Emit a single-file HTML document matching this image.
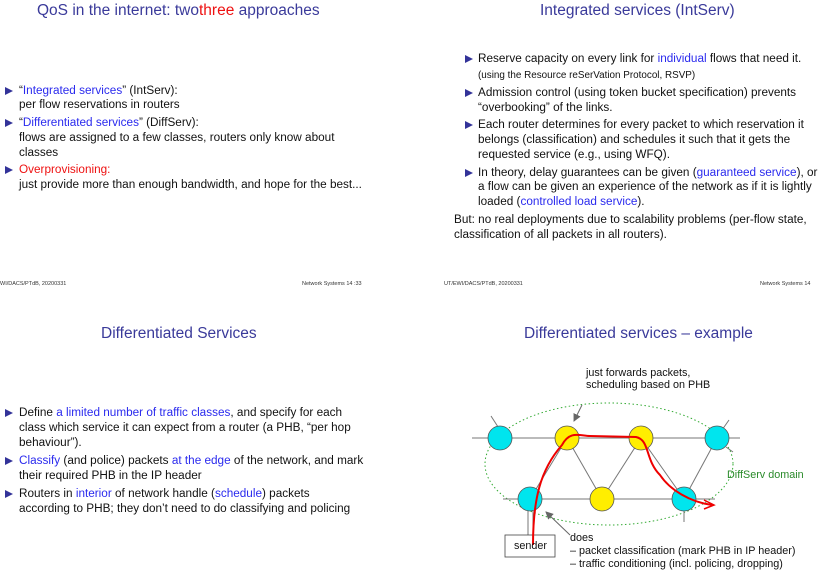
<!DOCTYPE html>
<html><head><meta charset="utf-8"><style>
body{margin:0;width:822px;height:571px;background:#fff;position:relative;overflow:hidden;font-family:"Liberation Sans",sans-serif;color:#111}
.t{position:absolute;font-size:15.5px;color:#3a3a9a;white-space:nowrap;line-height:18px}
.l{position:absolute;font-size:11.75px;line-height:14px;white-space:nowrap}
.s{font-size:9.9px}
.b{color:#2a2aee}.r{color:#ee1111}
.tri{position:absolute;width:0;height:0;border-left:8px solid #333399;border-top:4px solid transparent;border-bottom:4px solid transparent}
.f{position:absolute;font-size:5.5px;color:#333;white-space:nowrap}
.d{font-size:10.8px}
</style></head><body>
<div class="t" style="left:37px;top:2px">QoS in the internet: two<span class="r">three</span> approaches</div>
<div class="tri" style="left:5px;top:87px"></div><div class="l" style="left:19px;top:84px">“<span class="b">Integrated services</span>” (IntServ):</div>
<div class="l" style="left:19px;top:98px">per flow reservations in routers</div>
<div class="tri" style="left:5px;top:119px"></div><div class="l" style="left:19px;top:116px">“<span class="b">Differentiated services</span>” (DiffServ):</div>
<div class="l" style="left:19px;top:131px">flows are assigned to a few classes, routers only know about</div>
<div class="l" style="left:19px;top:146px">classes</div>
<div class="tri" style="left:5px;top:166px"></div><div class="l r" style="left:19px;top:163px">Overprovisioning:</div>
<div class="l" style="left:19px;top:178px">just provide more than enough bandwidth, and hope for the best...</div>

<div class="t" style="left:540px;top:2px">Integrated services (IntServ)</div>
<div class="tri" style="left:465px;top:55px"></div><div class="l" style="left:478px;top:52px">Reserve capacity on every link for <span class="b">individual</span> flows that need it.</div>
<div class="l s" style="left:478px;top:69px">(using the Resource reSerVation Protocol, RSVP)</div>
<div class="tri" style="left:465px;top:89px"></div><div class="l" style="left:478px;top:86px">Admission control (using token bucket specification) prevents</div>
<div class="l" style="left:478px;top:101px">“overbooking” of the links.</div>
<div class="tri" style="left:465px;top:121px"></div><div class="l" style="left:478px;top:118px">Each router determines for every packet to which reservation it</div>
<div class="l" style="left:478px;top:133px">belongs (classification) and schedules it such that it gets the</div>
<div class="l" style="left:478px;top:148px">requested service (e.g., using WFQ).</div>
<div class="tri" style="left:465px;top:169px"></div><div class="l" style="left:478px;top:166px">In theory, delay guarantees can be given (<span class="b">guaranteed service</span>), or</div>
<div class="l" style="left:478px;top:180px">a flow can be given an experience of the network as if it is lightly</div>
<div class="l" style="left:478px;top:195px">loaded (<span class="b">controlled load service</span>).</div>
<div class="l" style="left:454px;top:213px">But: no real deployments due to scalability problems (per-flow state,</div>
<div class="l" style="left:454px;top:228px">classification of all packets in all routers).</div>

<div class="f" style="left:0;top:281px">WI/DACS/PTdB, 20200331</div>
<div class="f" style="left:302px;top:281px">Network Systems 14 :33</div>
<div class="f" style="left:444px;top:281px">UT/EWI/DACS/PTdB, 20200331</div>
<div class="f" style="left:760px;top:281px">Network Systems 14</div>

<div class="t" style="left:101px;top:325px">Differentiated Services</div>
<div class="tri" style="left:5px;top:409px"></div><div class="l" style="left:19px;top:406px">Define <span class="b">a limited number of traffic classes</span>, and specify for each</div>
<div class="l" style="left:19px;top:421px">class which service it can expect from a router (a PHB, “per hop</div>
<div class="l" style="left:19px;top:436px">behaviour”).</div>
<div class="tri" style="left:5px;top:457px"></div><div class="l" style="left:19px;top:454px"><span class="b">Classify</span> (and police) packets <span class="b">at the edge</span> of the network, and mark</div>
<div class="l" style="left:19px;top:469px">their required PHB in the IP header</div>
<div class="tri" style="left:5px;top:490px"></div><div class="l" style="left:19px;top:487px">Routers in <span class="b">interior</span> of network handle (<span class="b">schedule</span>) packets</div>
<div class="l" style="left:19px;top:502px">according to PHB; they don’t need to do classifying and policing</div>

<div class="t" style="left:524px;top:325px">Differentiated services – example</div>
<svg style="position:absolute;left:0;top:0" width="822" height="571">
<defs><marker id="ga" markerWidth="8" markerHeight="8" refX="7" refY="4" orient="auto"><path d="M0,0 L8,4 L0,8 z" fill="#666"/></marker></defs>
<ellipse cx="609" cy="464" rx="124" ry="61" fill="none" stroke="#3a3" stroke-width="1" stroke-dasharray="1.5,2.5"/>
<g stroke="#777" stroke-width="1" fill="none">
<line x1="472" y1="438" x2="740" y2="438"/><line x1="503" y1="499" x2="715" y2="499"/>
<line x1="530" y1="499" x2="567" y2="438"/><line x1="567" y1="438" x2="602" y2="499"/>
<line x1="602" y1="499" x2="641" y2="438"/><line x1="641" y1="438" x2="684" y2="499"/>
<line x1="684" y1="499" x2="717" y2="438"/>
<line x1="491" y1="416" x2="500" y2="430"/><line x1="729" y1="420" x2="722" y2="430"/>
<line x1="726" y1="447" x2="733" y2="452"/><line x1="684" y1="511" x2="684" y2="522"/>
<line x1="528" y1="511" x2="528" y2="535"/><line x1="533" y1="511" x2="533" y2="535"/>
<line x1="582" y1="405" x2="574" y2="421" stroke="#666" marker-end="url(#ga)"/>
<line x1="570" y1="535" x2="546" y2="512" stroke="#666" marker-end="url(#ga)"/>
</g>
<g stroke="#555" stroke-width="0.8">
<circle cx="500" cy="438" r="12" fill="#00e5ee"/><circle cx="567" cy="438" r="12" fill="#ffee00"/>
<circle cx="641" cy="438" r="12" fill="#ffee00"/><circle cx="717" cy="438" r="12" fill="#00e5ee"/>
<circle cx="530" cy="499" r="12" fill="#00e5ee"/><circle cx="602" cy="499" r="12" fill="#ffee00"/>
<circle cx="684" cy="499" r="12" fill="#00e5ee"/>
</g>
<rect x="505" y="535" width="50" height="22" fill="#fff" stroke="#444" stroke-width="0.8"/>
<path d="M533,545 C533,500 540,470 562,445 C570,430 580,436 590,436 L636,437 C650,440 645,460 660,475 C670,490 690,502 712,505" fill="none" stroke="#e00" stroke-width="2"/>
<path d="M704,500 L714,505 L704,509" fill="none" stroke="#e00" stroke-width="1.5"/>
</svg>
<div class="l d" style="left:586px;top:366px">just forwards packets,</div>
<div class="l d" style="left:586px;top:378px">scheduling based on PHB</div>
<div class="l d" style="left:727px;top:468px;color:#2a8a2a">DiffServ domain</div>
<div class="l d" style="left:514px;top:539px">sender</div>
<div class="l d" style="left:570px;top:531px">does</div>
<div class="l d" style="left:570px;top:544px">– packet classification (mark PHB in IP header)</div>
<div class="l d" style="left:570px;top:557px">– traffic conditioning (incl. policing, dropping)</div>
</body></html>
